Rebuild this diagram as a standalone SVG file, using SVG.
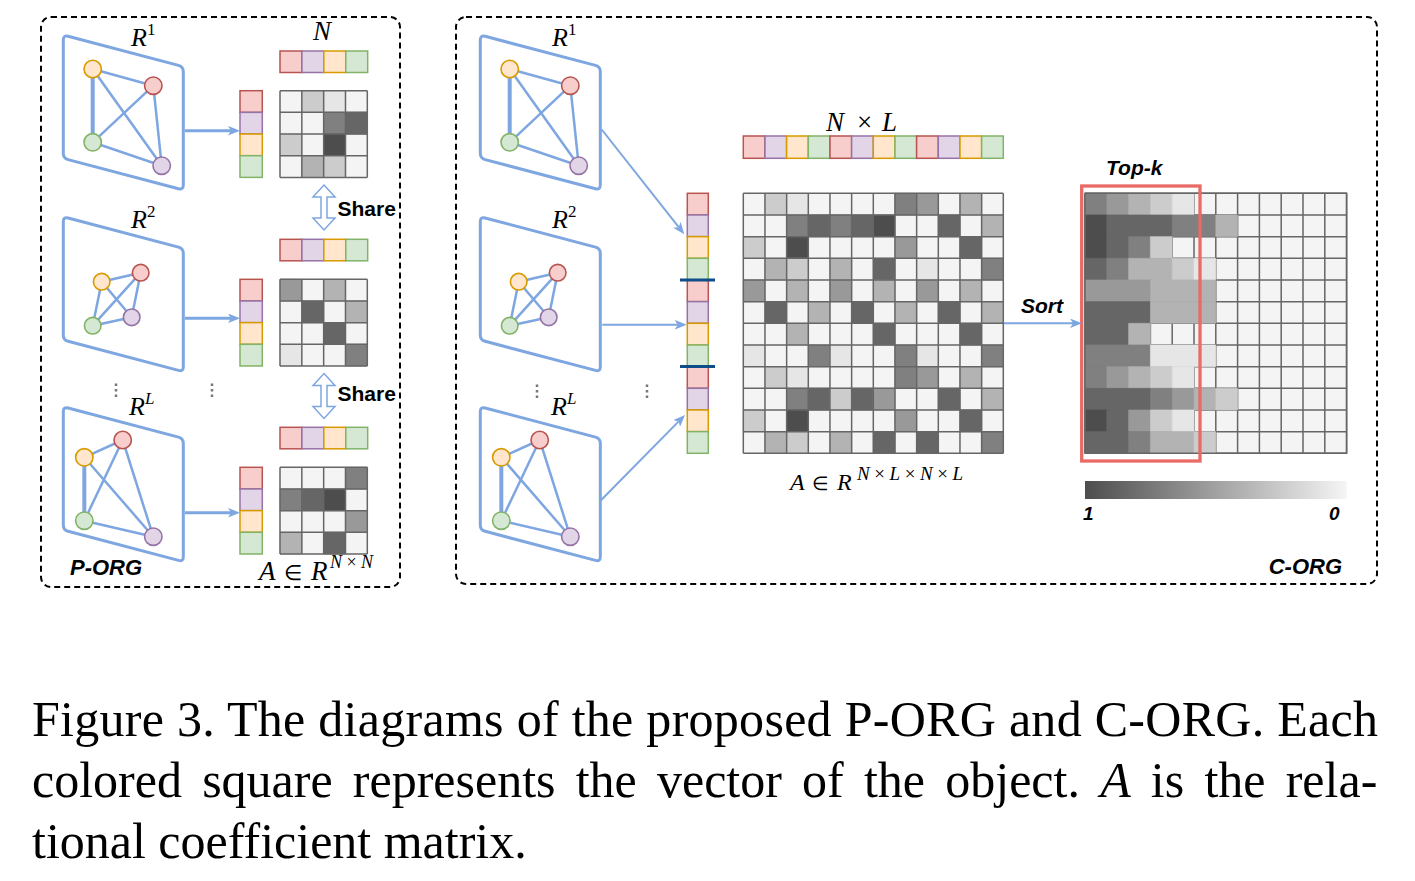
<svg xmlns="http://www.w3.org/2000/svg" xmlns:xlink="http://www.w3.org/1999/xlink" width="1415" height="881" viewBox="0 0 1415 881">
<style>
.bd{fill:none;stroke:#000;stroke-width:2;stroke-dasharray:6 4}
.pn{fill:#fff;stroke:#7EA6E0;stroke-width:3}
.ed{stroke:#7EA6E0;stroke-width:2.5;fill:none}
.tk{stroke-width:4}
.no{stroke-width:1.6}
.o{fill:#FFE6CC;stroke:#D79B00}
.r{fill:#F8CECC;stroke:#B85450}
.gr{fill:#D5E8D4;stroke:#82B366}
.p{fill:#E1D5E7;stroke:#9673A6}
.cc rect{stroke-width:1.5}
.mx rect{vector-effect:non-scaling-stroke;stroke-width:0.6}
.mx .bg{fill:#F4F4F4;stroke:none}
.gl{fill:none;stroke:#666;stroke-width:1.5}
.b{fill:#E6E6E6;stroke:#E6E6E6}
.c{fill:#CCCCCC;stroke:#CCCCCC}
.d{fill:#B3B3B3;stroke:#B3B3B3}
.e{fill:#999999;stroke:#999999}
.f{fill:#808080;stroke:#808080}
.g{fill:#666666;stroke:#666666}
.h{fill:#4D4D4D;stroke:#4D4D4D}
.m{font-family:"Liberation Serif","Times New Roman",serif;font-style:italic;fill:#000}
.up{font-style:normal}
.lb{font-family:"Liberation Sans",Arial,sans-serif;font-weight:bold;font-style:italic;fill:#000}
.sh{font-family:"Liberation Sans",Arial,sans-serif;font-weight:bold;font-size:21px;fill:#000}
.ar{stroke:#7EA6E0;fill:none;marker-end:url(#arr)}
.dt{stroke:#777;stroke-width:2.5;stroke-dasharray:2.5 3}
.cap{font-family:"Liberation Serif","Times New Roman",serif;font-size:50px;fill:#000}
</style>
<defs>
<path id="panel" d="M0,5Q0,0 4.8,1.3L115.2,30.4Q120,31.7 120,36.7L120,150Q120,155 115.2,153.7L4.8,124.6Q0,123.3 0,118.3Z"/>
<marker id="arr" viewBox="0 0 10 8" refX="2.5" refY="4" markerWidth="12" markerHeight="9.6" markerUnits="userSpaceOnUse" orient="auto"><path d="M0,0L10,4L0,8L2.5,4Z" fill="#7EA6E0"/></marker>
<path id="share" d="M0,0L11,12L3,12L3,33L11,33L0,45L-11,33L-3,33L-3,12L-11,12Z"/>
<linearGradient id="gb" x1="0" y1="0" x2="1" y2="0"><stop offset="0" stop-color="#4D4D4D"/><stop offset="1" stop-color="#F5F5F5"/></linearGradient>
<path id="grid4" vector-effect="non-scaling-stroke" d="M0,0V4M1,0V4M2,0V4M3,0V4M4,0V4M0,0H4M0,1H4M0,2H4M0,3H4M0,4H4"/>
<path id="grid12" vector-effect="non-scaling-stroke" d="M0,0V12M1,0V12M2,0V12M3,0V12M4,0V12M5,0V12M6,0V12M7,0V12M8,0V12M9,0V12M10,0V12M11,0V12M12,0V12M0,0H12M0,1H12M0,2H12M0,3H12M0,4H12M0,5H12M0,6H12M0,7H12M0,8H12M0,9H12M0,10H12M0,11H12M0,12H12"/>
</defs>

<g id="borders">
<rect class="bd" x="41" y="17" width="359" height="570" rx="10"/>
<rect class="bd" x="456" y="17" width="921" height="567" rx="10"/>
</g>

<!-- Left panels -->
<g id="p-org-r1" transform="translate(63.3,35)">
<use xlink:href="#panel" class="pn"/>
<line class="ed" x1="29.4" y1="34" x2="90" y2="50.7"/>
<line class="ed tk" x1="29.4" y1="34" x2="29.4" y2="107.3"/>
<line class="ed" x1="29.4" y1="34" x2="98.4" y2="130.7"/>
<line class="ed" x1="90" y1="50.7" x2="29.4" y2="107.3"/>
<line class="ed" x1="90" y1="50.7" x2="98.4" y2="130.7"/>
<line class="ed" x1="29.4" y1="107.3" x2="98.4" y2="130.7"/>
<circle class="o no" cx="29.4" cy="34" r="8.7"/>
<circle class="r no" cx="90" cy="50.7" r="8.7"/>
<circle class="gr no" cx="29.4" cy="107.3" r="8.7"/>
<circle class="p no" cx="98.4" cy="130.7" r="8.7"/>
</g>
<g id="p-org-r2" transform="translate(63.3,216.7)">
<use xlink:href="#panel" class="pn"/>
<line class="ed" x1="38.4" y1="65" x2="77.4" y2="56"/>
<line class="ed" x1="38.4" y1="65" x2="29.4" y2="109"/>
<line class="ed" x1="38.4" y1="65" x2="68.4" y2="100.6"/>
<line class="ed" x1="77.4" y1="56" x2="29.4" y2="109"/>
<line class="ed" x1="77.4" y1="56" x2="68.4" y2="100.6"/>
<line class="ed" x1="29.4" y1="109" x2="68.4" y2="100.6"/>
<circle class="o no" cx="38.4" cy="65" r="8.3"/>
<circle class="r no" cx="77.4" cy="56" r="8.3"/>
<circle class="gr no" cx="29.4" cy="109" r="8.3"/>
<circle class="p no" cx="68.4" cy="100.6" r="8.3"/>
</g>
<g id="p-org-rl" transform="translate(63.3,406.7)">
<use xlink:href="#panel" class="pn"/>
<line class="ed" x1="21" y1="50.6" x2="59.4" y2="33.3"/>
<line class="ed tk" x1="21" y1="50.6" x2="21" y2="114"/>
<line class="ed" x1="21" y1="50.6" x2="90" y2="130"/>
<line class="ed" x1="59.4" y1="33.3" x2="21" y2="114"/>
<line class="ed" x1="59.4" y1="33.3" x2="90" y2="130"/>
<line class="ed" x1="21" y1="114" x2="90" y2="130"/>
<circle class="o no" cx="21" cy="50.6" r="8.7"/>
<circle class="r no" cx="59.4" cy="33.3" r="8.7"/>
<circle class="gr no" cx="21" cy="114" r="8.7"/>
<circle class="p no" cx="90" cy="130" r="8.7"/>
</g>

<!-- Center panels -->
<g id="c-org-r1" transform="translate(480.3,35)">
<use xlink:href="#panel" class="pn"/>
<line class="ed" x1="29.4" y1="34" x2="90" y2="50.7"/>
<line class="ed tk" x1="29.4" y1="34" x2="29.4" y2="107.3"/>
<line class="ed" x1="29.4" y1="34" x2="98.4" y2="130.7"/>
<line class="ed" x1="90" y1="50.7" x2="29.4" y2="107.3"/>
<line class="ed" x1="90" y1="50.7" x2="98.4" y2="130.7"/>
<line class="ed" x1="29.4" y1="107.3" x2="98.4" y2="130.7"/>
<circle class="o no" cx="29.4" cy="34" r="8.7"/>
<circle class="r no" cx="90" cy="50.7" r="8.7"/>
<circle class="gr no" cx="29.4" cy="107.3" r="8.7"/>
<circle class="p no" cx="98.4" cy="130.7" r="8.7"/>
</g>
<g id="c-org-r2" transform="translate(480.3,216.7)">
<use xlink:href="#panel" class="pn"/>
<line class="ed" x1="38.4" y1="65" x2="77.4" y2="56"/>
<line class="ed" x1="38.4" y1="65" x2="29.4" y2="109"/>
<line class="ed" x1="38.4" y1="65" x2="68.4" y2="100.6"/>
<line class="ed" x1="77.4" y1="56" x2="29.4" y2="109"/>
<line class="ed" x1="77.4" y1="56" x2="68.4" y2="100.6"/>
<line class="ed" x1="29.4" y1="109" x2="68.4" y2="100.6"/>
<circle class="o no" cx="38.4" cy="65" r="8.3"/>
<circle class="r no" cx="77.4" cy="56" r="8.3"/>
<circle class="gr no" cx="29.4" cy="109" r="8.3"/>
<circle class="p no" cx="68.4" cy="100.6" r="8.3"/>
</g>
<g id="c-org-rl" transform="translate(480.3,406.7)">
<use xlink:href="#panel" class="pn"/>
<line class="ed" x1="21" y1="50.6" x2="59.4" y2="33.3"/>
<line class="ed tk" x1="21" y1="50.6" x2="21" y2="114"/>
<line class="ed" x1="21" y1="50.6" x2="90" y2="130"/>
<line class="ed" x1="59.4" y1="33.3" x2="21" y2="114"/>
<line class="ed" x1="59.4" y1="33.3" x2="90" y2="130"/>
<line class="ed" x1="21" y1="114" x2="90" y2="130"/>
<circle class="o no" cx="21" cy="50.6" r="8.7"/>
<circle class="r no" cx="59.4" cy="33.3" r="8.7"/>
<circle class="gr no" cx="21" cy="114" r="8.7"/>
<circle class="p no" cx="90" cy="130" r="8.7"/>
</g>

<!-- Left vectors and headers -->
<g id="p-org-vectors" class="cc">
<rect class="r" x="240" y="90.7" width="22.3" height="21.67"/>
<rect class="p" x="240" y="112.37" width="22.3" height="21.67"/>
<rect class="o" x="240" y="134.03" width="22.3" height="21.67"/>
<rect class="gr" x="240" y="155.7" width="22.3" height="21.67"/>
<rect class="r" x="240" y="279.3" width="22.3" height="21.67"/>
<rect class="p" x="240" y="300.97" width="22.3" height="21.67"/>
<rect class="o" x="240" y="322.63" width="22.3" height="21.67"/>
<rect class="gr" x="240" y="344.3" width="22.3" height="21.67"/>
<rect class="r" x="240" y="467.3" width="22.3" height="21.67"/>
<rect class="p" x="240" y="488.97" width="22.3" height="21.67"/>
<rect class="o" x="240" y="510.63" width="22.3" height="21.67"/>
<rect class="gr" x="240" y="532.3" width="22.3" height="21.67"/>
</g>
<g id="p-org-headers" class="cc">
<rect class="r" x="280" y="51" width="21.92" height="21.5"/>
<rect class="p" x="301.92" y="51" width="21.92" height="21.5"/>
<rect class="o" x="323.84" y="51" width="21.92" height="21.5"/>
<rect class="gr" x="345.76" y="51" width="21.92" height="21.5"/>
<rect class="r" x="280" y="239.3" width="21.92" height="21.5"/>
<rect class="p" x="301.92" y="239.3" width="21.92" height="21.5"/>
<rect class="o" x="323.84" y="239.3" width="21.92" height="21.5"/>
<rect class="gr" x="345.76" y="239.3" width="21.92" height="21.5"/>
<rect class="r" x="280" y="427.3" width="21.92" height="21.5"/>
<rect class="p" x="301.92" y="427.3" width="21.92" height="21.5"/>
<rect class="o" x="323.84" y="427.3" width="21.92" height="21.5"/>
<rect class="gr" x="345.76" y="427.3" width="21.92" height="21.5"/>
</g>

<!-- Left matrices -->
<g id="p-org-matrix1" class="mx" transform="translate(280,90.7) scale(21.83,21.67)">
<rect class="bg" width="4" height="4"/>
<rect class="c" x="1" y="0" width="1" height="1"/><rect class="b" x="2" y="0" width="1" height="1"/>
<rect class="f" x="2" y="1" width="1" height="1"/><rect class="g" x="3" y="1" width="1" height="1"/>
<rect class="c" x="0" y="2" width="1" height="1"/><rect class="h" x="2" y="2" width="1" height="1"/>
<rect class="d" x="1" y="3" width="1" height="1"/><rect class="c" x="2" y="3" width="1" height="1"/>
<use xlink:href="#grid4" class="gl"/>
</g>
<g id="p-org-matrix2" class="mx" transform="translate(280,279.3) scale(21.83,21.67)">
<rect class="bg" width="4" height="4"/>
<rect class="e" x="0" y="0" width="1" height="1"/><rect class="d" x="2" y="0" width="1" height="1"/>
<rect class="g" x="1" y="1" width="1" height="1"/><rect class="d" x="3" y="1" width="1" height="1"/>
<rect class="g" x="2" y="2" width="1" height="1"/>
<rect class="b" x="0" y="3" width="1" height="1"/><rect class="f" x="3" y="3" width="1" height="1"/>
<use xlink:href="#grid4" class="gl"/>
</g>
<g id="p-org-matrix3" class="mx" transform="translate(280,467.3) scale(21.83,21.67)">
<rect class="bg" width="4" height="4"/>
<rect class="f" x="3" y="0" width="1" height="1"/>
<rect class="f" x="0" y="1" width="1" height="1"/><rect class="g" x="1" y="1" width="1" height="1"/><rect class="h" x="2" y="1" width="1" height="1"/>
<rect class="e" x="3" y="2" width="1" height="1"/>
<rect class="d" x="0" y="3" width="1" height="1"/><rect class="g" x="2" y="3" width="1" height="1"/>
<use xlink:href="#grid4" class="gl"/>
</g>

<!-- Center vector and header -->
<g id="c-org-vector" class="cc">
<rect class="r" x="687.3" y="193.3" width="21" height="21.67"/>
<rect class="p" x="687.3" y="214.97" width="21" height="21.67"/>
<rect class="o" x="687.3" y="236.63" width="21" height="21.67"/>
<rect class="gr" x="687.3" y="258.3" width="21" height="21.67"/>
<rect class="r" x="687.3" y="279.97" width="21" height="21.67"/>
<rect class="p" x="687.3" y="301.63" width="21" height="21.67"/>
<rect class="o" x="687.3" y="323.3" width="21" height="21.67"/>
<rect class="gr" x="687.3" y="344.97" width="21" height="21.67"/>
<rect class="r" x="687.3" y="366.63" width="21" height="21.67"/>
<rect class="p" x="687.3" y="388.3" width="21" height="21.67"/>
<rect class="o" x="687.3" y="409.97" width="21" height="21.67"/>
<rect class="gr" x="687.3" y="431.63" width="21" height="21.67"/>
<line x1="680" y1="280" x2="715" y2="280" stroke="#0F4C8A" stroke-width="3"/>
<line x1="680" y1="366.6" x2="715" y2="366.6" stroke="#0F4C8A" stroke-width="3"/>
</g>
<g id="c-org-header" class="cc">
<rect class="r" x="743.3" y="136" width="21.67" height="22.3"/>
<rect class="p" x="764.97" y="136" width="21.67" height="22.3"/>
<rect class="o" x="786.63" y="136" width="21.67" height="22.3"/>
<rect class="gr" x="808.3" y="136" width="21.67" height="22.3"/>
<rect class="r" x="829.97" y="136" width="21.67" height="22.3"/>
<rect class="p" x="851.63" y="136" width="21.67" height="22.3"/>
<rect class="o" x="873.3" y="136" width="21.67" height="22.3"/>
<rect class="gr" x="894.97" y="136" width="21.67" height="22.3"/>
<rect class="r" x="916.63" y="136" width="21.67" height="22.3"/>
<rect class="p" x="938.3" y="136" width="21.67" height="22.3"/>
<rect class="o" x="959.97" y="136" width="21.67" height="22.3"/>
<rect class="gr" x="981.63" y="136" width="21.67" height="22.3"/>
</g>

<!-- Center matrix -->
<g id="c-org-matrix" class="mx" transform="translate(743.3,193.3) scale(21.667)">
<rect class="bg" width="12" height="12"/>
<rect class="c" x="1" y="0" width="1" height="1"/><rect class="b" x="2" y="0" width="1" height="1"/><rect class="f" x="7" y="0" width="1" height="1"/><rect class="e" x="8" y="0" width="1" height="1"/><rect class="d" x="10" y="0" width="1" height="1"/>
<rect class="f" x="2" y="1" width="1" height="1"/><rect class="g" x="3" y="1" width="1" height="1"/><rect class="f" x="4" y="1" width="1" height="1"/><rect class="g" x="5" y="1" width="1" height="1"/><rect class="h" x="6" y="1" width="1" height="1"/><rect class="g" x="9" y="1" width="1" height="1"/><rect class="d" x="11" y="1" width="1" height="1"/>
<rect class="c" x="0" y="2" width="1" height="1"/><rect class="h" x="2" y="2" width="1" height="1"/><rect class="e" x="7" y="2" width="1" height="1"/><rect class="g" x="10" y="2" width="1" height="1"/>
<rect class="d" x="1" y="3" width="1" height="1"/><rect class="c" x="2" y="3" width="1" height="1"/><rect class="d" x="4" y="3" width="1" height="1"/><rect class="g" x="6" y="3" width="1" height="1"/><rect class="b" x="8" y="3" width="1" height="1"/><rect class="f" x="11" y="3" width="1" height="1"/>
<rect class="e" x="0" y="4" width="1" height="1"/><rect class="d" x="2" y="4" width="1" height="1"/><rect class="e" x="4" y="4" width="1" height="1"/><rect class="d" x="6" y="4" width="1" height="1"/><rect class="e" x="8" y="4" width="1" height="1"/><rect class="d" x="10" y="4" width="1" height="1"/>
<rect class="g" x="1" y="5" width="1" height="1"/><rect class="d" x="3" y="5" width="1" height="1"/><rect class="g" x="5" y="5" width="1" height="1"/><rect class="d" x="7" y="5" width="1" height="1"/><rect class="g" x="9" y="5" width="1" height="1"/><rect class="d" x="11" y="5" width="1" height="1"/>
<rect class="d" x="2" y="6" width="1" height="1"/><rect class="g" x="6" y="6" width="1" height="1"/><rect class="g" x="10" y="6" width="1" height="1"/>
<rect class="b" x="0" y="7" width="1" height="1"/><rect class="f" x="3" y="7" width="1" height="1"/><rect class="b" x="4" y="7" width="1" height="1"/><rect class="f" x="7" y="7" width="1" height="1"/><rect class="b" x="8" y="7" width="1" height="1"/><rect class="f" x="11" y="7" width="1" height="1"/>
<rect class="c" x="1" y="8" width="1" height="1"/><rect class="b" x="2" y="8" width="1" height="1"/><rect class="f" x="7" y="8" width="1" height="1"/><rect class="e" x="8" y="8" width="1" height="1"/><rect class="d" x="10" y="8" width="1" height="1"/>
<rect class="f" x="2" y="9" width="1" height="1"/><rect class="g" x="3" y="9" width="1" height="1"/><rect class="c" x="4" y="9" width="1" height="1"/><rect class="g" x="5" y="9" width="1" height="1"/><rect class="e" x="6" y="9" width="1" height="1"/><rect class="g" x="9" y="9" width="1" height="1"/><rect class="d" x="11" y="9" width="1" height="1"/>
<rect class="c" x="0" y="10" width="1" height="1"/><rect class="h" x="2" y="10" width="1" height="1"/><rect class="e" x="7" y="10" width="1" height="1"/><rect class="g" x="10" y="10" width="1" height="1"/>
<rect class="d" x="1" y="11" width="1" height="1"/><rect class="c" x="2" y="11" width="1" height="1"/><rect class="d" x="4" y="11" width="1" height="1"/><rect class="g" x="6" y="11" width="1" height="1"/><rect class="g" x="8" y="11" width="1" height="1"/><rect class="f" x="11" y="11" width="1" height="1"/>
<use xlink:href="#grid12" class="gl"/>
</g>

<!-- Sorted matrix -->
<g id="sorted-matrix" class="mx" transform="translate(1085,193.3) scale(21.8,21.667)">
<rect class="bg" width="12" height="12"/>
<use xlink:href="#grid12" class="gl"/>
<rect class="f" x="0" y="0" width="1" height="1"/><rect class="e" x="1" y="0" width="1" height="1"/><rect class="d" x="2" y="0" width="1" height="1"/><rect class="c" x="3" y="0" width="1" height="1"/><rect class="b" x="4" y="0" width="1" height="1"/>
<rect class="h" x="0" y="1" width="1" height="1"/><rect class="g" x="1" y="1" width="3" height="1"/><rect class="f" x="4" y="1" width="2" height="1"/><rect class="d" x="6" y="1" width="1" height="1"/>
<rect class="h" x="0" y="2" width="1" height="1"/><rect class="g" x="1" y="2" width="1" height="1"/><rect class="f" x="2" y="2" width="1" height="1"/><rect class="c" x="3" y="2" width="1" height="1"/>
<rect class="g" x="0" y="3" width="1" height="1"/><rect class="f" x="1" y="3" width="1" height="1"/><rect class="d" x="2" y="3" width="2" height="1"/><rect class="c" x="4" y="3" width="1" height="1"/><rect class="b" x="5" y="3" width="1" height="1"/>
<rect class="e" x="0" y="4" width="3" height="1"/><rect class="d" x="3" y="4" width="3" height="1"/>
<rect class="g" x="0" y="5" width="3" height="1"/><rect class="d" x="3" y="5" width="3" height="1"/>
<rect class="g" x="0" y="6" width="2" height="1"/><rect class="d" x="2" y="6" width="1" height="1"/>
<rect class="f" x="0" y="7" width="3" height="1"/><rect class="b" x="3" y="7" width="3" height="1"/>
<rect class="f" x="0" y="8" width="1" height="1"/><rect class="e" x="1" y="8" width="1" height="1"/><rect class="d" x="2" y="8" width="1" height="1"/><rect class="c" x="3" y="8" width="1" height="1"/><rect class="b" x="4" y="8" width="1" height="1"/>
<rect class="g" x="0" y="9" width="3" height="1"/><rect class="f" x="3" y="9" width="1" height="1"/><rect class="e" x="4" y="9" width="1" height="1"/><rect class="d" x="5" y="9" width="1" height="1"/><rect class="c" x="6" y="9" width="1" height="1"/>
<rect class="h" x="0" y="10" width="1" height="1"/><rect class="g" x="1" y="10" width="1" height="1"/><rect class="e" x="2" y="10" width="1" height="1"/><rect class="c" x="3" y="10" width="1" height="1"/><rect class="b" x="4" y="10" width="1" height="1"/>
<rect class="g" x="0" y="11" width="2" height="1"/><rect class="f" x="2" y="11" width="1" height="1"/><rect class="d" x="3" y="11" width="2" height="1"/><rect class="c" x="5" y="11" width="1" height="1"/>
<rect width="12" height="12" fill="none" stroke="#666" style="stroke-width:1.5"/>
</g>
<g id="topk-box">
<rect x="1081.7" y="186" width="118.3" height="275" fill="none" stroke="#EA6B66" stroke-width="3.3"/>
</g>
<g id="colorbar">
<rect x="1085" y="481" width="261.7" height="18" fill="url(#gb)"/>
<text class="lb" x="1083" y="520" font-size="19">1</text>
<text class="lb" x="1329" y="520" font-size="19">0</text>
</g>

<!-- Connectors -->
<g id="connectors">
<line class="ar" stroke-width="3" x1="185" y1="130.7" x2="231" y2="130.7"/>
<line class="ar" stroke-width="3" x1="185" y1="318.3" x2="231" y2="318.3"/>
<line class="ar" stroke-width="3" x1="185" y1="512.7" x2="231" y2="512.7"/>
<line class="ar" stroke-width="2" x1="601.7" y1="129.5" x2="678.7" y2="227.2"/>
<line class="ar" stroke-width="2" x1="602.3" y1="324.8" x2="677.7" y2="324.8"/>
<line class="ar" stroke-width="2" x1="600.7" y1="500.5" x2="678.7" y2="421.4"/>
<line class="ar" stroke-width="2" x1="1004" y1="323.3" x2="1073" y2="323.3"/>
<use xlink:href="#share" x="324" y="185" fill="#fff" stroke="#7EA6E0" stroke-width="1.5"/>
<use xlink:href="#share" x="324" y="373.5" fill="#fff" stroke="#7EA6E0" stroke-width="1.5"/>
</g>

<g id="dots">
<line class="dt" x1="116" y1="383.5" x2="116" y2="398"/>
<line class="dt" x1="212" y1="383.5" x2="212" y2="398"/>
<line class="dt" x1="537" y1="384.5" x2="537" y2="399"/>
<line class="dt" x1="647" y1="384.5" x2="647" y2="399"/>
</g>

<!-- Labels -->
<g id="labels">
<text class="m" x="131" y="46" font-size="26">R<tspan class="up" font-size="17" dy="-11">1</tspan></text>
<text class="m" x="131" y="228" font-size="26">R<tspan class="up" font-size="17" dy="-11">2</tspan></text>
<text class="m" x="129" y="415" font-size="26">R<tspan font-size="17" dy="-11">L</tspan></text>
<text class="m" x="552" y="46" font-size="26">R<tspan class="up" font-size="17" dy="-11">1</tspan></text>
<text class="m" x="552" y="228" font-size="26">R<tspan class="up" font-size="17" dy="-11">2</tspan></text>
<text class="m" x="551" y="415" font-size="26">R<tspan font-size="17" dy="-11">L</tspan></text>
<text class="m" x="313" y="40" font-size="27">N</text>
<text class="m" x="826" y="131" font-size="27">N<tspan class="up" x="857">×</tspan><tspan x="882">L</tspan></text>
<text class="m" x="259" y="580" font-size="27">A<tspan class="up" x="284" font-size="21">∈</tspan><tspan x="311">R</tspan></text>
<text class="m" x="330" y="568" font-size="18" textLength="43" lengthAdjust="spacing">N<tspan class="up">×</tspan>N</text>
<text class="m" x="790" y="490" font-size="24">A<tspan class="up" x="812" font-size="19">∈</tspan><tspan x="837">R</tspan></text>
<text class="m" x="857" y="480" font-size="19" textLength="106" lengthAdjust="spacing">N<tspan class="up">×</tspan>L<tspan class="up">×</tspan>N<tspan class="up">×</tspan>L</text>
<text class="sh" x="337.5" y="216">Share</text>
<text class="sh" x="337.5" y="401">Share</text>
<text class="lb" x="70" y="575" font-size="22">P-ORG</text>
<text class="lb" x="1342" y="574" font-size="22" text-anchor="end">C-ORG</text>
<text class="lb" x="1106" y="175" font-size="21">Top-k</text>
<text class="lb" x="1021" y="313" font-size="21">Sort</text>
</g>

<g id="caption">
<text class="cap" x="32" y="736" textLength="1346" lengthAdjust="spacing">Figure 3. The diagrams of the proposed P-ORG and C-ORG. Each</text>
<text class="cap" x="32" y="797" word-spacing="7.7">colored square represents the vector of the object. <tspan font-style="italic">A</tspan> is the rela-</text>
<text class="cap" x="32" y="858">tional coefficient matrix.</text>
</g>
</svg>
